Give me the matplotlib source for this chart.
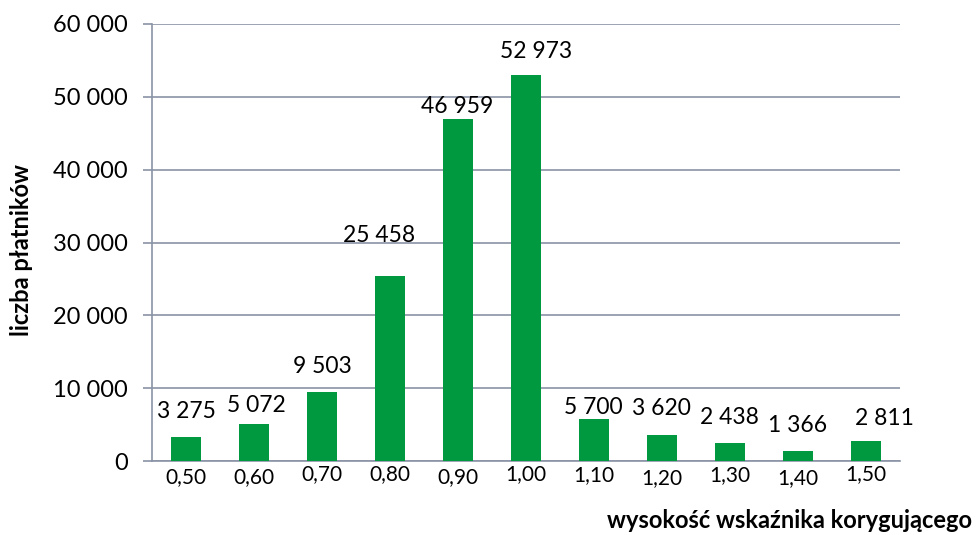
import matplotlib.pyplot as plt
from matplotlib.ticker import FuncFormatter

plt.rcParams['font.family'] = ['Lato', 'DejaVu Sans']

# dane
kategorie = ['0,50', '0,60', '0,70', '0,80', '0,90', '1,00',
             '1,10', '1,20', '1,30', '1,40', '1,50']
liczba_platnikow = [3275, 5072, 9503, 25458, 46959, 52973,
                    5700, 3620, 2438, 1366, 2811]

# przesunięcia etykiet (piksele) jak w oryginale z Excela
etyk_dx = [0, 2, 0, -11, -1, 10, -1, -1, -1, 0, 18]
etyk_dy = [19, 12, 19, 34, 6, 17, 5, 20, 19, 19, 16]
tick_dy = [22, 22, 19, 19, 22, 19, 20, 23, 20, 23, 19]

kolor_siatki = '#8a93a6'
zielony = '#00993f'


def fmt(v):
    return f'{int(v):,}'.replace(',', ' ')


fig = plt.figure(figsize=(9.77, 5.35), dpi=100)
ax = fig.add_axes([152 / 977, 74 / 535, 748 / 977, 437 / 535])

x = list(range(len(kategorie)))
ax.bar(x, liczba_platnikow, width=0.435, color=zielony, zorder=3)

ax.set_xlim(-0.5, len(kategorie) - 0.5)
ax.set_ylim(0, 60000)
ax.set_yticks(range(0, 60001, 10000))
ax.yaxis.set_major_formatter(FuncFormatter(lambda v, p: fmt(v)))
ax.tick_params(axis='y', direction='out', length=6.5, width=1.2,
               color=kolor_siatki, pad=11, labelsize=17)
ax.set_xticks([])
ax.grid(axis='y', color=kolor_siatki, lw=1.2, zorder=0)

for s in ['top', 'right']:
    ax.spines[s].set_visible(False)
for s in ['left', 'bottom']:
    ax.spines[s].set_color(kolor_siatki)
    ax.spines[s].set_linewidth(1.2)

# etykiety osi X (lekko schodkowe)
for i, lab in enumerate(kategorie):
    ax.annotate(lab, xy=(i, 0), xycoords=('data', 'axes fraction'),
                xytext=(0, -tick_dy[i]), textcoords='offset pixels',
                ha='center', va='baseline', fontsize=15)

# etykiety danych
for i, v in enumerate(liczba_platnikow):
    ax.annotate(fmt(v), xy=(i, v), xytext=(etyk_dx[i], etyk_dy[i]),
                textcoords='offset pixels', ha='center', va='baseline',
                fontsize=16.5)

fig.text(22 / 977, 1 - 250 / 535, 'liczba płatników', rotation=90,
         ha='center', va='center', fontsize=17, fontweight='bold')
fig.text(972 / 977, 1 - 528 / 535, 'wysokość wskaźnika korygującego',
         ha='right', va='baseline', fontsize=17, fontweight='bold')

fig.savefig('out.png', dpi=100)
